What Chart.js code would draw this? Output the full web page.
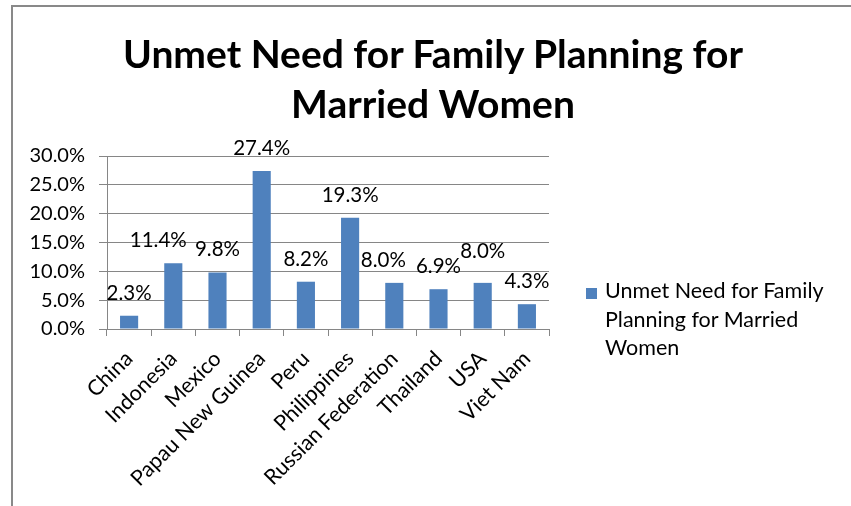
<!DOCTYPE html>
<html>
<head>
<meta charset="utf-8">
<script src="https://cdn.jsdelivr.net/npm/chart.js@4.4.0/dist/chart.umd.min.js"></script>
<style>
	html, body { margin: 0; padding: 0; background: #fff; overflow: hidden; }
	#wrap { position: relative; width: 851px; height: 506px; font-family: Lato, sans-serif; color: #000; }
	#frame { position: absolute; left: 11px; top: 5px; right: 0; bottom: 0; border-left: 2px solid #898989; border-top: 2px solid #898989; }
	#title { position: absolute; left: 433px; top: 28px; transform: translateX(-50%); white-space: nowrap; text-align: center; font-weight: bold; font-size: 39px; line-height: 50px; }
	#c { position: absolute; left: 0; top: 0; }
	#legend { position: absolute; left: 586px; top: 276px; }
	#legend .swatch { position: absolute; left: 0; top: 12px; width: 11px; height: 11px; background: #4F81BD; }
	#legend .ltext { position: absolute; left: 19px; top: 0; white-space: nowrap; font-size: 21.5px; line-height: 28.5px; }
</style>
</head>
<body>
<div id="wrap">
	<div id="frame"></div>
	<canvas id="c" width="851" height="506"></canvas>
	<div id="title"></div>
	<div id="legend"><span class="swatch"></span><div class="ltext"></div></div>
</div>
<script>
const categories = ['China', 'Indonesia', 'Mexico', 'Papau New Guinea', 'Peru', 'Philippines', 'Russian Federation', 'Thailand', 'USA', 'Viet Nam'];
const unmetNeed = [2.3, 11.4, 9.8, 27.4, 8.2, 19.3, 8.0, 6.9, 8.0, 4.3];
const yTicks = [0, 5, 10, 15, 20, 25, 30];
const titleLines = ['Unmet Need for Family Planning for', 'Married Women'];
const seriesName = 'Unmet Need for Family Planning for Married Women';
const legendLines = ['Unmet Need for Family', 'Planning for Married', 'Women'];

// a few labels were dragged aside in the original to avoid overlap
const labelShift = { 1: [-15, 0], 6: [-11, 0], 8: [0, -9] };

document.getElementById('title').innerHTML = titleLines.join('<br>');
document.querySelector('#legend .ltext').innerHTML = legendLines.join('<br>');

const axisGray = '#868686';

const valueLabels = {
	id: 'valueLabels',
	afterDatasetsDraw(chart) {
		const ctx = chart.ctx;
		const meta = chart.getDatasetMeta(0);
		ctx.save();
		ctx.font = '20.5px Lato';
		ctx.fillStyle = '#000';
		ctx.textAlign = 'center';
		ctx.textBaseline = 'alphabetic';
		meta.data.forEach((bar, i) => {
			const shift = labelShift[i] || [0, 0];
			ctx.fillText(unmetNeed[i].toFixed(1) + '%', bar.x + shift[0], bar.y - 16 + shift[1]);
		});
		ctx.restore();
	}
};

new Chart(document.getElementById('c').getContext('2d'), {
	type: 'bar',
	data: {
		labels: categories,
		datasets: [{
			label: seriesName,
			data: unmetNeed,
			backgroundColor: '#4F81BD',
			barPercentage: 0.41,
			categoryPercentage: 1
		}]
	},
	options: {
		responsive: false,
		animation: false,
		layout: { padding: { top: 156, right: 302, bottom: 0, left: 0 } },
		plugins: {
			legend: { display: false },
			title: { display: false },
			tooltip: { enabled: false }
		},
		scales: {
			x: {
				grid: { drawOnChartArea: false, drawTicks: true, tickLength: 7, color: axisGray, offset: true },
				border: { color: axisGray },
				ticks: { autoSkip: false, minRotation: 45, maxRotation: 45, font: { family: 'Lato', size: 21.5 }, color: '#000', padding: 10 },
				afterFit(scale) { scale.height = 177; }
			},
			y: {
				min: 0,
				max: 30,
				afterBuildTicks(scale) { scale.ticks = yTicks.map(v => ({ value: v })); },
				grid: { color: axisGray, tickLength: 8 },
				border: { color: axisGray },
				ticks: { padding: 14, font: { family: 'Lato', size: 20 }, color: '#000', callback: v => v.toFixed(1) + '%' },
				afterFit(scale) { scale.width = 107; }
			}
		}
	},
	plugins: [valueLabels]
});
</script>
</body>
</html>
